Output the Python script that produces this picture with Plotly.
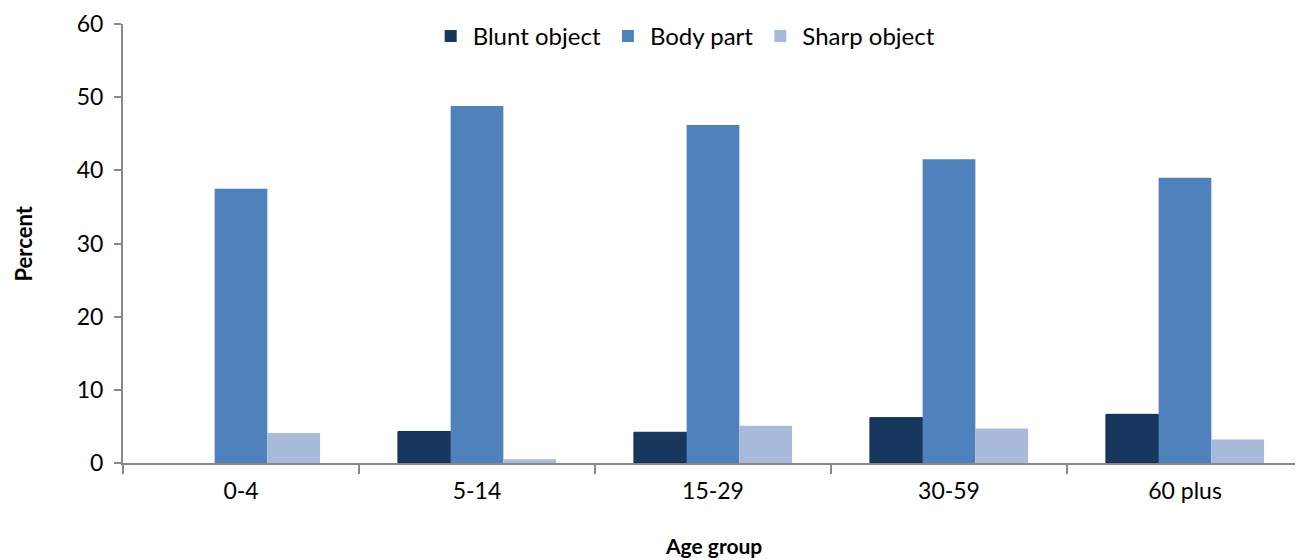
import plotly.graph_objects as go

categories = ["0-4", "5-14", "15-29", "30-59", "60 plus"]
blunt_object = [0, 4.3, 4.2, 6.2, 6.65]
body_part = [37.5, 48.8, 46.2, 41.5, 39.0]
sharp_object = [4.1, 0.5, 5.1, 4.7, 3.2]
y_ticks = [0, 10, 20, 30, 40, 50, 60]

FONT = "Lato, 'Open Sans', sans-serif"

fig = go.Figure()
fig.add_trace(go.Bar(name="Blunt object", x=categories, y=blunt_object,
                     marker=dict(color="#17375E",
                                 line=dict(color="#0E2A57", width=[0 if v == 0 else 1 for v in blunt_object]))))
fig.add_trace(go.Bar(name="Body part", x=categories, y=body_part,
                     marker=dict(color="#4F81BD", line=dict(width=0))))
fig.add_trace(go.Bar(name="Sharp object", x=categories, y=sharp_object,
                     marker=dict(color="#AABADA", line=dict(width=0))))

fig.update_layout(
    width=1295, height=552,
    margin=dict(l=115, r=0, t=16, b=97, autoexpand=False),
    paper_bgcolor="white", plot_bgcolor="white",
    barmode="group", bargap=0.33, bargroupgap=0,
    font=dict(family=FONT, size=23, color="black"),
    legend=dict(orientation="h", x=0.476, xanchor="center", y=1.023, yanchor="top",
                font=dict(size=24), bgcolor="rgba(0,0,0,0)", itemwidth=34,
                tracegroupgap=0),
    xaxis=dict(
        showline=True, linecolor="#888888", linewidth=2, automargin=False,
        ticks="outside", tickson="boundaries", ticklen=9, tickcolor="#888888", tickwidth=2,
        tickfont=dict(size=23), showgrid=False, ticklabelstandoff=6,
    ),
    yaxis=dict(
        range=[0, 60], tickvals=y_ticks, automargin=False,
        showline=True, linecolor="#888888", linewidth=2,
        ticks="outside", ticklen=7, tickcolor="#888888", tickwidth=2,
        showgrid=False, zeroline=False, ticklabelstandoff=6,
        tickfont=dict(size=23),
    ),
    annotations=[
        dict(text="<b>Age group</b>", xref="paper", yref="paper", x=0.5, y=0,
             yshift=-82, yanchor="middle", showarrow=False, font=dict(size=21)),
        dict(text="<b>Percent</b>", xref="paper", yref="paper", x=0, y=0.5,
             xshift=-100, xanchor="center", textangle=-90, showarrow=False,
             font=dict(size=22)),
    ],
)

fig.write_html("out.html")
